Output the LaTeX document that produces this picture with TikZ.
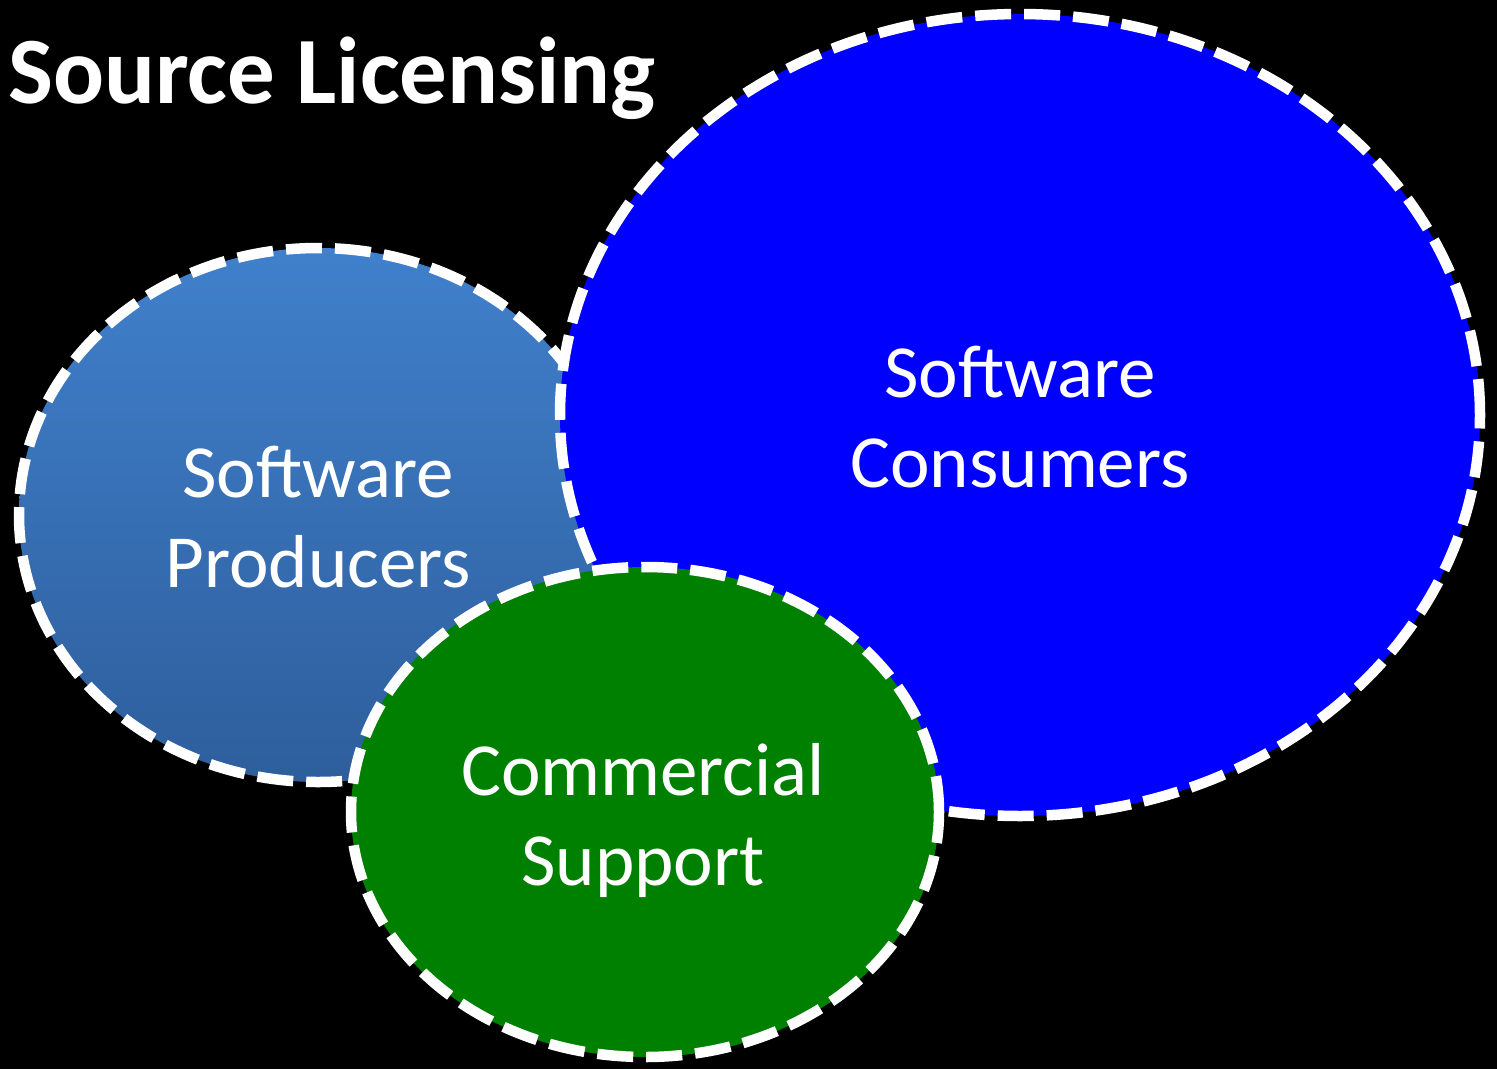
\documentclass[tikz,border=0pt]{standalone}
\usepackage{fontspec}
\setmainfont{Carlito}
\usetikzlibrary{shapes.geometric}
\definecolor{prodtop}{RGB}{64,128,204}
\definecolor{prodbot}{RGB}{46,94,156}
\definecolor{consfill}{RGB}{0,0,255}
\definecolor{commfill}{RGB}{0,128,0}
\tikzset{
  bubble/.style={ellipse, draw=white, line width=10.5pt, dash pattern=on 36pt off 13pt, inner sep=0pt},
  bubbletext/.style={text=white, anchor=base, inner sep=0pt, font=\fontsize{75}{90}\selectfont},
  titletext/.style={text=white, anchor=base west, inner sep=0pt, font=\fontsize{95}{100}\selectfont\bfseries}
}
\begin{document}
\begin{tikzpicture}[x=1pt,y=-1pt]
\fill[black] (0,0) rectangle (1497,1069);
\useasboundingbox (0,0) rectangle (1497,1069);
\node[titletext] (title) at (8,103) {Source Licensing};
\node[bubble, top color=prodtop, bottom color=prodbot, minimum width=598pt, minimum height=534pt] (prod) at (318,515) {};
\node[bubble, fill=consfill, minimum width=920pt, minimum height=802pt] (cons) at (1020,415) {};
\node[bubble, fill=commfill, minimum width=588pt, minimum height=490pt] (comm) at (645,812) {};
\node[bubbletext] (prod1) at (318,497) {Software};
\node[bubbletext] (prod2) at (318,587) {Producers};
\node[bubbletext] (cons1) at (1020,397) {Software};
\node[bubbletext] (cons2) at (1020,487) {Consumers};
\node[bubbletext] (comm1) at (643,795) {Commercial};
\node[bubbletext] (comm2) at (643,885) {Support};
\end{tikzpicture}
\end{document}
